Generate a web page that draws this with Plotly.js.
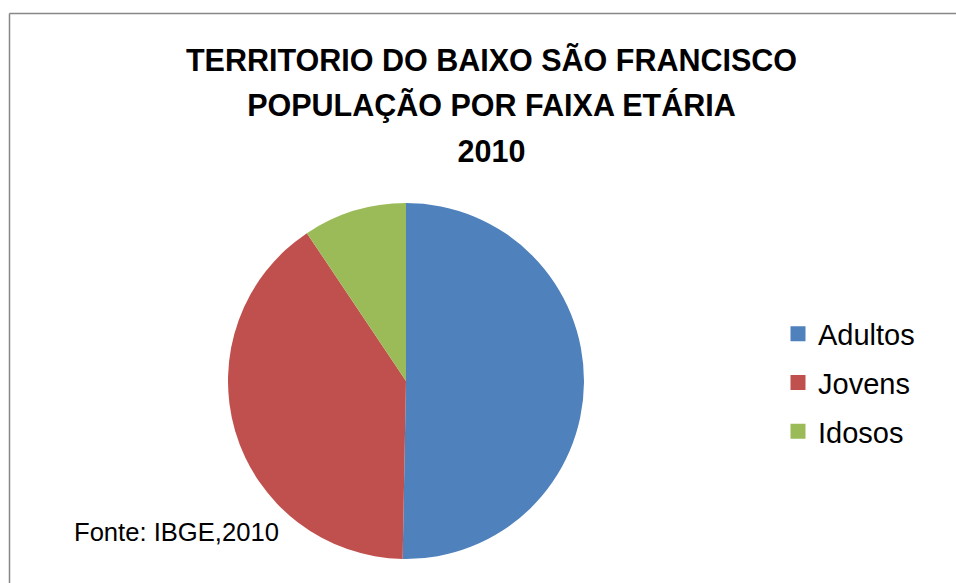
<!DOCTYPE html>
<html>
<head>
<meta charset="utf-8">
<script src="https://cdn.plot.ly/plotly-3.0.1.min.js"></script>
<style>
html, body { margin: 0; padding: 0; background: #fff; }
#chart { width: 956px; height: 583px; }
</style>
</head>
<body>
<div id="chart"></div>
<script>
var categories = ["Adultos", "Jovens", "Idosos"];
var values = [50.3, 40.3, 9.4];
var colors = ["#4F81BD", "#C0504D", "#9BBB59"];
var titleLines = ["TERRITORIO DO BAIXO SÃO FRANCISCO", "POPULAÇÃO POR FAIXA ETÁRIA", "2010"];
var sourceNote = "Fonte: IBGE,2010";

var W = 956, H = 583;
var cx = 406, cy = 381, r = 178;

var traces = [{
  type: "pie",
  labels: categories,
  values: values,
  marker: { colors: colors, line: { width: 0 } },
  sort: false,
  direction: "clockwise",
  rotation: 0,
  textinfo: "none",
  hoverinfo: "label+percent",
  showlegend: false,
  domain: { x: [(cx - r) / W, (cx + r) / W], y: [(H - cy - r) / H, (H - cy + r) / H] }
}];

categories.forEach(function (c, i) {
  traces.push({
    type: "scatter",
    mode: "markers",
    x: [null], y: [null],
    name: c,
    legendgroup: c,
    marker: { symbol: "square", size: 15, color: colors[i] },
    hoverinfo: "skip",
    showlegend: true
  });
});

var titleText = titleLines.map(function (t) {
  return '<span style="font-size:30.5px">' + t + '</span>';
}).join("<br>");

var layout = {
  width: W, height: H,
  margin: { l: 0, r: 0, t: 0, b: 0 },
  paper_bgcolor: "#ffffff",
  plot_bgcolor: "rgba(0,0,0,0)",
  xaxis: { visible: false },
  yaxis: { visible: false },
  title: {
    text: titleText,
    font: { family: "Liberation Sans, Arial, sans-serif", size: 35, color: "#000", weight: "bold" },
    x: 491.5 / W, xanchor: "center", xref: "paper",
    y: 1 - 70.5 / H, yanchor: "top", yref: "container"
  },
  legend: {
    x: 778 / W, xanchor: "left",
    y: 1 - 308.5 / H, yanchor: "top",
    font: { family: "Liberation Sans, Arial, sans-serif", size: 29, color: "#000" },
    tracegroupgap: 8,
    bgcolor: "rgba(0,0,0,0)",
    itemclick: false
  },
  annotations: [{
    text: sourceNote,
    xref: "paper", yref: "paper",
    x: 72 / W, xanchor: "left",
    y: 1 - 532 / H, yanchor: "middle",
    showarrow: false,
    font: { family: "Liberation Sans, Arial, sans-serif", size: 25.6, color: "#000" }
  }],
  shapes: [
    { type: "line", xref: "paper", yref: "paper", x0: 9.5 / W, x1: 9.5 / W, y0: 0, y1: 1 - 13.5 / H, line: { color: "#888888", width: 1.5 } },
    { type: "line", xref: "paper", yref: "paper", x0: 9.5 / W, x1: 1, y0: 1 - 13.5 / H, y1: 1 - 13.5 / H, line: { color: "#888888", width: 1.5 } }
  ]
};

Plotly.newPlot("chart", traces, layout, { displayModeBar: false });
</script>
</body>
</html>
